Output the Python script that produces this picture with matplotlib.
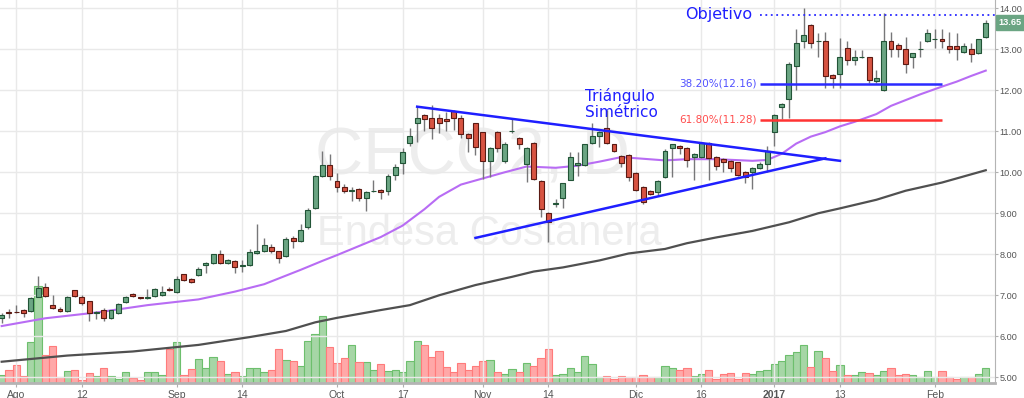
import numpy as np
import matplotlib.pyplot as plt

# daily candles, CECO2 (Endesa Costanera), late Jul 2016 - Feb 2017
opens = [6.44, 6.60, 6.60, 6.63, 6.62, 6.97, 7.20, 6.76, 6.67, 6.61,
         7.12, 6.97, 6.85, 6.58, 6.64, 6.44, 6.56, 6.84, 7.02, 6.95,
         6.93, 6.99, 7.00, 7.15, 7.07, 7.51, 7.39, 7.50, 7.73, 7.78,
         8.00, 7.78, 7.84, 7.72, 7.74, 8.02, 8.07, 8.17, 8.07, 7.96,
         8.40, 8.33, 8.67, 9.13, 9.90, 10.18, 9.78, 9.65, 9.54, 9.60,
         9.38, 9.54, 9.57, 9.55, 9.94, 10.22, 10.72, 11.19, 11.39, 11.33,
         11.33, 11.29, 11.49, 11.33, 10.94, 11.19, 10.98, 10.27, 10.98, 10.27,
         11.00, 10.84, 10.21, 10.72, 9.78, 9.00, 9.23, 9.37, 9.82, 10.18,
         10.18, 10.72, 10.88, 11.08, 10.68, 10.39, 10.43, 9.99, 9.64, 9.54,
         9.53, 9.88, 10.59, 10.63, 10.59, 10.38, 10.38, 10.71, 10.38, 10.33,
         10.28, 10.24, 10.00, 10.00, 10.10, 10.20, 10.99, 11.60, 11.78, 12.59,
         13.19, 13.59, 13.19, 13.19, 12.37, 12.40, 13.02, 12.74, 12.80, 12.80,
         12.23, 12.00, 13.19, 13.10, 13.00, 12.80, 13.00, 13.19, 13.24, 13.24,
         13.09, 13.09, 12.94, 13.00, 12.90, 13.29]
highs = [6.58, 6.66, 6.76, 6.66, 6.96, 7.46, 7.29, 7.00, 6.71, 6.98,
         7.14, 7.00, 6.87, 6.62, 6.68, 6.65, 6.81, 6.98, 7.05, 6.97,
         7.15, 7.19, 7.22, 7.20, 7.47, 7.53, 7.41, 7.68, 7.80, 8.00,
         8.10, 7.88, 7.86, 7.86, 8.12, 8.74, 8.40, 8.25, 8.09, 8.41,
         8.45, 8.74, 9.13, 9.93, 10.53, 10.45, 9.98, 9.71, 9.65, 9.62,
         9.55, 9.80, 9.60, 9.95, 10.20, 10.59, 11.08, 11.60, 11.43, 11.64,
         11.43, 11.47, 11.51, 11.39, 10.96, 11.21, 10.99, 10.62, 11.00, 10.73,
         11.33, 10.86, 10.62, 10.75, 9.82, 9.02, 9.34, 9.75, 10.50, 10.50,
         10.70, 11.19, 11.00, 11.51, 10.70, 10.41, 10.45, 10.01, 9.66, 9.56,
         9.80, 10.57, 10.70, 10.66, 10.62, 10.47, 10.73, 10.73, 10.40, 10.35,
         10.30, 10.26, 10.02, 10.12, 10.25, 10.65, 11.42, 11.70, 12.70, 13.49,
         14.00, 13.61, 13.39, 13.43, 12.40, 13.28, 13.19, 12.99, 12.99, 12.82,
         12.49, 13.88, 13.43, 13.15, 13.29, 12.92, 13.19, 13.49, 13.49, 13.49,
         13.43, 13.39, 13.15, 13.15, 13.26, 13.71]
lows = [6.32, 6.44, 6.57, 6.48, 6.60, 6.96, 6.97, 6.66, 6.59, 6.60,
        6.97, 6.76, 6.37, 6.41, 6.38, 6.43, 6.54, 6.82, 6.97, 6.92,
        6.91, 6.97, 6.98, 7.10, 7.05, 7.35, 7.30, 7.46, 7.55, 7.76,
        7.76, 7.76, 7.55, 7.56, 7.72, 8.00, 8.06, 8.03, 7.78, 7.94,
        8.15, 8.31, 8.61, 9.11, 9.88, 9.82, 9.51, 9.49, 9.30, 9.30,
        9.05, 9.52, 9.35, 9.45, 9.80, 9.96, 10.65, 10.74, 11.00, 10.82,
        10.97, 11.00, 11.03, 10.83, 10.49, 10.41, 9.84, 9.88, 10.49, 10.23,
        10.97, 10.57, 9.76, 9.80, 8.90, 8.29, 9.15, 9.13, 9.80, 9.90,
        10.16, 10.70, 10.62, 10.70, 10.50, 10.13, 9.78, 9.55, 9.23, 9.45,
        9.43, 9.86, 9.88, 10.45, 10.13, 9.81, 10.36, 9.81, 10.05, 10.00,
        10.00, 9.91, 9.75, 9.59, 10.08, 10.00, 10.65, 11.30, 11.32, 12.00,
        13.02, 13.02, 12.82, 12.05, 12.05, 12.05, 12.62, 12.62, 12.78, 12.17,
        12.17, 11.98, 12.82, 12.82, 12.41, 12.55, 12.82, 13.17, 13.02, 13.02,
        12.90, 12.74, 12.92, 12.70, 12.88, 13.27]
closes = [6.52, 6.56, 6.59, 6.58, 6.94, 7.19, 6.99, 6.68, 6.61, 6.97,
          6.98, 6.80, 6.56, 6.59, 6.44, 6.63, 6.79, 6.95, 6.99, 6.94,
          6.95, 7.15, 7.07, 7.12, 7.40, 7.37, 7.33, 7.64, 7.78, 8.00,
          7.78, 7.86, 7.70, 7.74, 8.06, 8.07, 8.23, 8.07, 7.91, 8.37,
          8.33, 8.59, 9.08, 9.90, 10.18, 9.90, 9.64, 9.54, 9.57, 9.38,
          9.53, 9.55, 9.52, 9.90, 10.14, 10.49, 10.89, 11.33, 11.29, 11.08,
          11.19, 11.24, 11.33, 10.93, 10.84, 10.62, 10.27, 10.59, 10.59, 10.68,
          11.00, 10.69, 10.59, 9.84, 9.11, 8.78, 9.24, 9.73, 10.37, 10.22,
          10.68, 10.88, 10.98, 10.72, 10.52, 10.23, 9.88, 9.57, 9.27, 9.47,
          9.78, 10.53, 10.68, 10.59, 10.29, 10.45, 10.71, 10.34, 10.15, 10.24,
          10.11, 9.93, 9.89, 10.10, 10.20, 10.53, 11.40, 11.66, 12.64, 13.15,
          13.35, 13.15, 13.19, 12.35, 12.29, 12.80, 12.74, 12.80, 12.80, 12.25,
          12.29, 13.19, 13.00, 13.00, 12.64, 12.90, 13.00, 13.39, 13.24, 13.19,
          13.00, 13.00, 13.09, 12.88, 13.24, 13.65]
volumes = [8, 13, 18, 7, 41, 97, 28, 37, 6, 12,
           13, 3, 10, 7, 15, 7, 4, 11, 5, 3,
           11, 11, 8, 34, 41, 8, 14, 24, 15, 26,
           22, 9, 11, 7, 15, 15, 11, 13, 34, 23,
           22, 17, 42, 49, 67, 36, 20, 25, 38, 21,
           21, 13, 19, 12, 13, 11, 22, 42, 38, 26,
           32, 16, 11, 20, 13, 17, 22, 23, 11, 9,
           14, 11, 20, 17, 25, 34, 8, 9, 15, 11,
           27, 19, 6, 7, 4, 7, 6, 6, 8, 6,
           6, 17, 15, 13, 15, 7, 9, 13, 4, 9,
           10, 4, 10, 9, 12, 13, 19, 22, 28, 31,
           38, 16, 32, 25, 12, 18, 8, 8, 11, 10,
           8, 12, 15, 8, 9, 8, 6, 12, 6, 12,
           6, 4, 6, 6, 9, 15]

# moving averages (bar index, value)
ma_fast_idx = [0, 6, 13, 20, 27, 32, 36, 41, 44, 46, 49, 52, 55, 58, 60, 63, 66, 69, 72,
               76, 79, 82, 85, 88, 91, 94, 98, 103, 105, 107, 109, 111, 113, 115, 117,
               120, 122, 124, 126, 129, 131, 133, 135]
ma_fast = [6.25, 6.44, 6.58, 6.76, 6.90, 7.09, 7.27, 7.62, 7.84, 7.98, 8.20, 8.42, 8.70,
           9.10, 9.40, 9.70, 9.85, 10.00, 10.14, 10.11, 10.16, 10.26, 10.37, 10.33, 10.29,
           10.32, 10.32, 10.28, 10.30, 10.45, 10.70, 10.87, 10.98, 11.12, 11.23, 11.42,
           11.62, 11.76, 11.90, 12.09, 12.21, 12.35, 12.48]
ma_slow_idx = [0, 9, 18, 27, 34, 39, 43, 46, 52, 56, 60, 65, 70, 73, 77, 82, 86, 91, 94,
               98, 103, 108, 112, 115, 120, 124, 129, 133, 135]
ma_slow = [5.38, 5.53, 5.63, 5.79, 5.98, 6.13, 6.34, 6.45, 6.64, 6.76, 7.00, 7.25, 7.45,
           7.58, 7.68, 7.85, 8.02, 8.13, 8.27, 8.41, 8.57, 8.78, 9.00, 9.12, 9.33, 9.55,
           9.75, 9.95, 10.05]

tick_idx = [2, 11, 24, 33, 46, 55, 66, 75, 87, 96, 106, 115, 128]
tick_labels = ['Ago', '12', 'Sep', '14', 'Oct', '17', 'Nov', '14', 'Dic', '16', '2017', '13', 'Feb']
price_ticks = [5, 6, 7, 8, 9, 10, 11, 12, 13, 14]

# drawings
tri_upper_idx, tri_upper_px = [57, 115], [11.60, 10.28]
tri_lower_idx, tri_lower_px = [65, 113], [8.40, 10.34]
fib_start, fib_end = 104, 129
fib_levels = [12.16, 11.28]
fib_names = ['38.20%(12.16)', '61.80%(11.28)']
fib_colors = ['#2a2aff', '#ff3333']
fib_text_colors = ['#5050ff', '#ff4d4d']
target = 13.84

up_fill, up_edge = '#6ba583', '#225437'
dn_fill, dn_edge = '#d75442', '#5b1a13'

o = np.array(opens); h = np.array(highs); l = np.array(lows); c = np.array(closes)
v = np.array(volumes)
x = np.arange(len(o))
up = c >= o

fig = plt.figure(figsize=(10.24, 3.98), dpi=100)
ax = fig.add_axes([0, 15/398, 995/1024, 383/398])
ax2 = ax.twinx()
ax.set_zorder(ax2.get_zorder() + 1)
ax.patch.set_visible(False)

# volume
ax2.bar(x[up], v[up], width=1.0, color='#a6d6a6', edgecolor='#6dbf6d', lw=0.8)
ax2.bar(x[~up], v[~up], width=1.0, color='#ffa8a8', edgecolor='#ff7b7b', lw=0.8)
ax2.set_ylim(0, 383)
ax2.set_yticks([])
for s in ax2.spines.values():
    s.set_visible(False)

# watermark
ax.text(0.475, 0.59, 'CECO2, D', transform=ax.transAxes, ha='center', va='center',
        fontsize=48, color='#ededed', family='Liberation Sans', zorder=0)
ax.text(0.492, 0.39, 'Endesa Costanera', transform=ax.transAxes, ha='center', va='center',
        fontsize=30, color='#ededed', family='Liberation Sans', zorder=0)

# moving averages
ax.plot(ma_slow_idx, ma_slow, color='#505050', lw=1.6, zorder=2)
ax.plot(ma_fast_idx, ma_fast, color='#b86cf4', lw=1.5, zorder=2)

# candles
ax.vlines(x, l, h, color='#777779', lw=1, zorder=3)
body = np.maximum(np.abs(c - o), 0.012)
bot = np.minimum(o, c)
ax.bar(x[up], body[up], bottom=bot[up], width=0.68, color=up_fill, edgecolor=up_edge, lw=0.8, zorder=4)
ax.bar(x[~up], body[~up], bottom=bot[~up], width=0.68, color=dn_fill, edgecolor=dn_edge, lw=0.8, zorder=4)

# triangle
ax.plot(tri_upper_idx, tri_upper_px, color='#1f1fff', lw=1.8, zorder=5)
ax.plot(tri_lower_idx, tri_lower_px, color='#1f1fff', lw=1.8, zorder=5)
ax.text(80, 11.67, 'Triángulo\nSimétrico', color='#1f1fff', fontsize=11, ha='left', va='center',
        linespacing=1.05, zorder=6)

# fibonacci levels
for lev, name, col, tcol in zip(fib_levels, fib_names, fib_colors, fib_text_colors):
    ax.hlines(lev, fib_start, fib_end, color=col, lw=1.8, zorder=5)
    ax.text(fib_start - 0.4, lev, name, color=tcol, fontsize=7.5, ha='right', va='center', zorder=6)

xmin, xmax = -0.23, 136.27
ax.hlines(target, fib_start, xmax, color='#2a2aff', lw=1.3, linestyles=(0, (1, 2)), zorder=5)
ax.text(103, target, 'Objetivo', color='#1f1fff', fontsize=11.5, ha='right', va='center', zorder=6)

ax.set_xlim(xmin, xmax)
ax.set_ylim(4.861, 14.202)

ax.set_xticks(tick_idx)
ax.set_xticklabels(tick_labels, fontsize=7.5, color='#555555', family='Liberation Sans')
ax.get_xticklabels()[tick_labels.index('2017')].set_fontweight('bold')
ax.yaxis.tick_right()
ax.set_yticks(price_ticks)
ax.set_yticklabels(['%.2f' % p for p in price_ticks], fontsize=6.6, color='#555555',
                   family='Liberation Sans')
ax.tick_params(axis='x', length=3, color='#b0b0b0', pad=2)
ax.tick_params(axis='y', length=2, color='#b0b0b0', pad=1)
ax.grid(True, color='#e9e9e9', lw=1)
ax.set_axisbelow(True)
for side in ['left', 'top']:
    ax.spines[side].set_visible(False)
ax.spines['bottom'].set_color('#b4b4b4')
ax.spines['bottom'].set_linewidth(2)
ax.spines['right'].set_color('#b4b4b4')

# last price tag
ax.annotate('%.2f' % closes[-1], xy=(1, closes[-1]), xycoords=('axes fraction', 'data'),
            xytext=(2.5, 0), textcoords='offset points', ha='left', va='center',
            fontsize=6.6, color='white', fontweight='bold', family='Liberation Sans',
            bbox=dict(boxstyle='square,pad=0.3', fc=up_fill, ec=up_fill), annotation_clip=False)

fig.savefig('out.png', dpi=100, facecolor='white')
